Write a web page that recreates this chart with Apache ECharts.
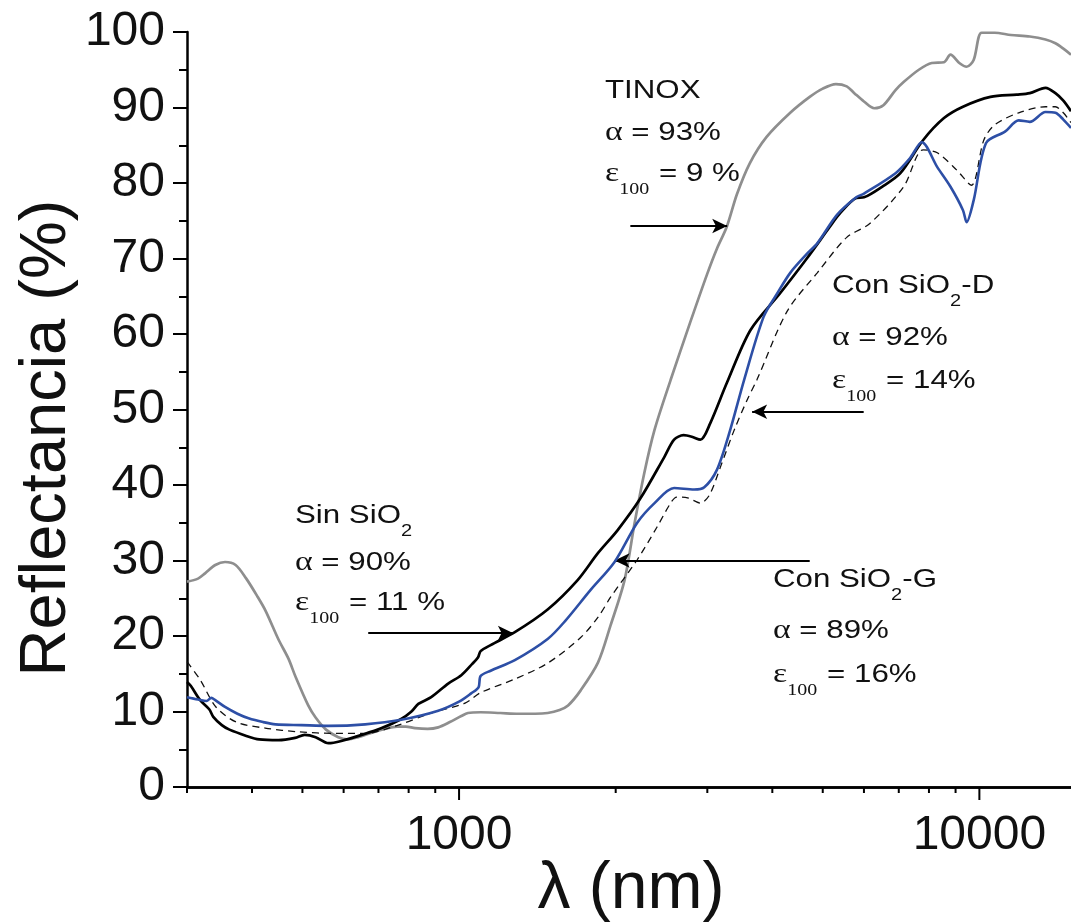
<!DOCTYPE html>
<html>
<head>
<meta charset="utf-8">
<script src="https://cdn.jsdelivr.net/npm/echarts@6/dist/echarts.min.js"></script>
<style>
html,body{margin:0;padding:0;background:#fff;}
#chart{width:1071px;height:923px;}
</style>
</head>
<body>
<div id="chart"></div>
<script>
// ---- data (wavelength nm, reflectance %) ----
const tinox = [[300,27.2],[315,27.6],[325,28.3],[340,29.4],[355,29.8],[372,29.4],[390,27.6],[410,25.2],[425,23.3],[450,19.5],[470,17.0],[485,14.6],[513,10.8],[530,9.2],[555,7.6],[586,6.6],[610,6.3],[640,6.6],[680,7.2],[720,7.7],[760,8.0],[790,8.0],[823,7.8],[870,7.7],[912,7.9],[960,8.6],[1010,9.4],[1040,9.8],[1100,9.9],[1200,9.8],[1300,9.7],[1400,9.7],[1480,9.8],[1560,10.2],[1620,10.8],[1713,12.8],[1850,16.5],[1955,21.4],[2080,27.4],[2175,35.0],[2270,41.6],[2375,47.3],[2550,53.9],[2780,61.5],[3000,68.0],[3130,71.3],[3270,74.2],[3420,78.5],[3620,82.6],[3900,86.1],[4330,89.3],[4720,91.4],[5000,92.5],[5300,93.1],[5560,92.8],[5750,91.9],[6000,90.8],[6280,89.9],[6540,90.3],[6900,92.3],[7160,93.4],[7650,95.0],[8100,95.9],[8550,96.0],[8800,97.0],[9150,95.9],[9450,95.4],[9750,96.3],[10100,99.9],[10700,99.9],[11500,99.6],[12500,99.4],[13400,99.0],[14000,98.5],[14500,97.8],[15000,97.0]];

const sinSiO2 = [[300,13.9],[305,13.4],[318,11.5],[331,10.3],[337,9.3],[350,8.2],[362,7.6],[389,6.8],[413,6.3],[450,6.2],[484,6.5],[505,6.9],[530,6.6],[561,5.8],[594,6.1],[650,6.9],[710,7.8],[774,9.0],[810,10.0],[835,11.0],[884,11.9],[953,13.7],[1010,14.8],[1060,16.3],[1088,17.2],[1100,18.0],[1150,18.8],[1280,20.5],[1480,23.5],[1690,27.4],[1850,31.0],[2016,34.0],[2230,38.2],[2480,43.7],[2590,46.0],[2700,46.6],[2800,46.4],[2910,46.0],[3040,48.2],[3270,53.5],[3630,60.5],[4140,65.4],[4660,70.0],[5160,74.2],[5400,76.0],[5800,78.0],[6000,78.1],[6500,79.5],[7050,81.3],[7800,85.7],[8550,88.6],[9300,90.1],[10500,91.4],[11800,91.7],[12500,91.9],[13400,92.6],[14000,91.9],[14500,90.9],[15000,89.5]];

const conSiO2G = [[300,11.9],[315,11.6],[327,11.4],[334,11.8],[340,11.5],[355,10.6],[375,9.7],[394,9.1],[420,8.6],[444,8.3],[498,8.2],[561,8.1],[660,8.3],[774,8.9],[912,10.1],[1000,11.3],[1055,12.4],[1090,13.2],[1100,14.7],[1150,15.4],[1280,16.8],[1480,19.6],[1600,22.0],[1790,26.1],[1990,29.8],[2200,35.0],[2375,37.6],[2590,39.6],[2830,39.4],[2960,39.7],[3130,42.0],[3320,47.3],[3530,53.9],[3850,62.3],[4090,65.4],[4330,68.1],[4660,70.6],[4880,72.0],[5330,75.8],[5800,78.1],[6000,78.6],[6900,81.3],[7360,83.3],[7750,85.4],[8300,82.1],[8800,79.5],[9300,76.4],[9450,74.8],[9750,77.7],[10300,85.3],[11200,86.8],[11900,88.3],[12500,88.1],[13400,89.4],[14000,89.3],[14500,88.4],[15000,87.3]];

const conSiO2D = [[300,16.6],[318,14.2],[341,10.6],[373,8.6],[424,7.8],[492,7.3],[578,7.1],[660,7.1],[764,8.2],[884,9.8],[1027,11.1],[1100,12.5],[1280,14.3],[1480,16.4],[1713,19.8],[1850,22.5],[1958,25.2],[2200,30.1],[2400,34.4],[2550,37.6],[2620,38.4],[2750,38.3],[2910,37.6],[3030,38.7],[3180,42.4],[3380,47.3],[3580,51.3],[3740,54.0],[4270,63.0],[4880,68.1],[5560,72.8],[6150,74.6],[7150,79.5],[7800,84.4],[8300,84.0],[9050,81.7],[9650,79.7],[10200,85.7],[10700,87.7],[11900,89.3],[13400,90.1],[14000,90.1],[14500,89.3],[15000,88.0]];

// arrows: [tail, tip] in data coordinates
const arrows = [
  [[2134,74.3],[3276,74.3]],
  [[669,20.4],[1269,20.4]],
  [[5993,49.7],[3658,49.7]],
  [[4720,30.0],[1990,30.0]]
];

const yTicks = [0,10,20,30,40,50,60,70,80,90,100];
const xLabelValues = [1000,10000];
const xMajorTicks = [1000,10000];
const xMinorTicks = [300,400,500,600,700,800,900,2000,3000,4000,5000,6000,7000,8000,9000];

// ---- annotation texts ----
const annotations = [
  {x:605, y:91,  t:'{n|TINOX}'},
  {x:605, y:133, t:'{g|α}{n| = 93%}'},
  {x:605, y:174, t:'{g|ε}{s|100}{n| = 9 %}'},
  {x:295, y:516, t:'{n|Sin SiO}{t|2}'},
  {x:295, y:563, t:'{g|α}{n| = 90%}'},
  {x:295, y:603, t:'{g|ε}{s|100}{n| = 11 %}'},
  {x:832, y:286, t:'{n|Con SiO}{t|2}{n|-D}'},
  {x:832, y:338, t:'{g|α}{n| = 92%}'},
  {x:832, y:381, t:'{g|ε}{s|100}{n| = 14%}'},
  {x:773, y:580, t:'{n|Con SiO}{t|2}{n|-G}'},
  {x:773, y:631, t:'{g|α}{n| = 89%}'},
  {x:773, y:675, t:'{g|ε}{s|100}{n| = 16%}'}
];

const SANS = '"Liberation Sans", Arial, Helvetica, sans-serif';
const SERIF = '"Liberation Serif", "Times New Roman", serif';
const RICH = {
  n: {fontSize:25, fontFamily:SANS, color:'#111', lineHeight:30, verticalAlign:'middle'},
  g: {fontSize:27, fontFamily:SERIF, color:'#111', lineHeight:30, verticalAlign:'middle'},
  s: {fontSize:16, fontFamily:SERIF, color:'#111', lineHeight:30, verticalAlign:'middle', padding:[32,1,0,0]},
  t: {fontSize:16, fontFamily:SANS, color:'#111', lineHeight:30, verticalAlign:'middle', padding:[32,0,0,0]}
};

const chart = echarts.init(document.getElementById('chart'), null, {renderer:'canvas'});

function isDecade(v){ return xLabelValues.some(d => Math.abs(v - d) / d < 1e-6); }

function tickSeries(values, len){
  return {
    type:'custom', silent:true, clip:false, z:10, animation:false,
    data: values.map(v => [v, 0]),
    renderItem: function(params, api){
      const p = api.coord([api.value(0), 0]);
      return {type:'line', shape:{x1:p[0], y1:p[1], x2:p[0], y2:p[1] + len},
              style:{stroke:'#000', lineWidth:2}};
    }
  };
}

const lineBase = {type:'line', showSymbol:false, symbol:'none', smooth:0.3, animation:false, silent:true};

const option = {
  backgroundColor:'#fff',
  animation:false,
  grid:{left:187, right:-4, top:32, bottom:136, containLabel:false},
  xAxis:[{
    type:'log', logBase:10, min:300, max:15000,
    axisLine:{show:true, onZero:false, lineStyle:{color:'#000', width:2.5}},
    axisTick:{show:false},
    minorTick:{show:false},
    splitLine:{show:false},
    axisLabel:{
      show:true, margin:25, color:'#111', fontSize:48, fontFamily:SANS,
      showMinLabel:false, showMaxLabel:false,
      formatter: v => isDecade(v) ? String(Math.round(v)) : ''
    }
  },{
    type:'log', logBase:10, min:300, max:15000, position:'top',
    axisLine:{show:true, lineStyle:{color:'#000', width:2.5}},
    axisTick:{show:false}, axisLabel:{show:false}, splitLine:{show:false}
  }],
  yAxis:{
    type:'value', min:0, max:100, interval:10,
    axisLine:{show:true, onZero:false, lineStyle:{color:'#000', width:2.5}},
    axisTick:{show:true, inside:false, length:14, lineStyle:{color:'#000', width:2}},
    minorTick:{show:true, splitNumber:2, length:8, lineStyle:{color:'#000', width:2}},
    splitLine:{show:false},
    axisLabel:{margin:22, color:'#111', fontSize:48, fontFamily:SANS,
      formatter: v => yTicks.indexOf(v) >= 0 ? String(v) : ''}
  },
  series:[
    Object.assign({}, lineBase, {name:'TINOX', data:tinox, z:2,
      lineStyle:{color:'#8e8e8e', width:2.7}}),
    Object.assign({}, lineBase, {name:'Con SiO2-D', data:conSiO2D, z:3,
      lineStyle:{color:'#111', width:1.3, type:[7,5]}}),
    Object.assign({}, lineBase, {name:'Sin SiO2', data:sinSiO2, z:4,
      lineStyle:{color:'#000', width:2.7}}),
    Object.assign({}, lineBase, {name:'Con SiO2-G', data:conSiO2G, z:5,
      lineStyle:{color:'#2d4fa6', width:2.6},
      markLine:{
        silent:true, animation:false,
        symbol:['none','arrow'], symbolSize:[11,15],
        label:{show:false},
        lineStyle:{color:'#000', width:2.2, type:'solid'},
        emphasis:{disabled:true},
        data: arrows.map(a => [{coord:a[0]}, {coord:a[1]}])
      }}),
    tickSeries(xMajorTicks, 13),
    tickSeries(xMinorTicks, 6)
  ],
  graphic:[
    {type:'text', x:47, y:438, rotation:Math.PI/2, silent:true,
     style:{text:'Reflectancia (%)', fontSize:65, fontFamily:SANS, fill:'#111',
            align:'center', verticalAlign:'middle', textAlign:'center', textVerticalAlign:'middle'}},
    {type:'text', x:631, y:890, silent:true,
     style:{text:'λ (nm)', fontSize:66, fontFamily:SANS, fill:'#111',
            align:'center', verticalAlign:'middle', textAlign:'center', textVerticalAlign:'middle'}}
  ].concat(annotations.map(a => ({
    type:'text', x:a.x, y:a.y, scaleX:1.25, silent:true,
    style:{text:a.t, rich:RICH, fontSize:25, fontFamily:SANS, fill:'#111',
           align:'left', verticalAlign:'middle', textAlign:'left', textVerticalAlign:'middle'}
  })))
};

chart.setOption(option);
</script>
</body>
</html>
